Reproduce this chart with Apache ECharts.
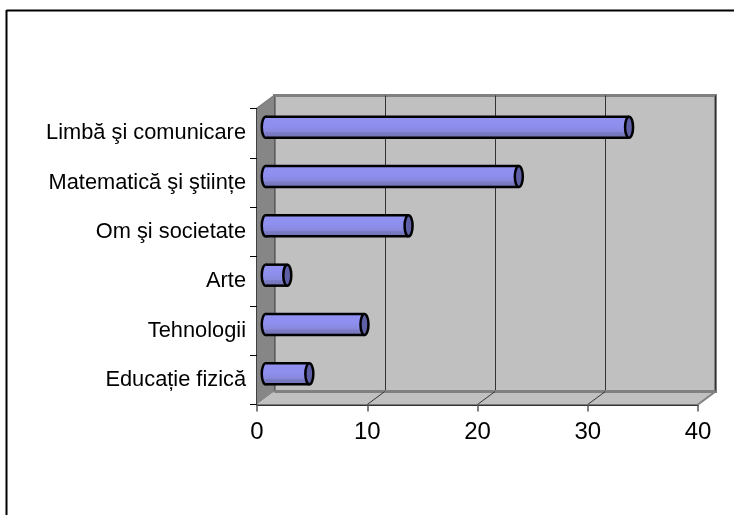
<!DOCTYPE html>
<html>
<head>
<meta charset="utf-8">
<style>
  html, body { margin: 0; padding: 0; background: #fff; }
  #chart { width: 734px; height: 515px; }
</style>
<script src="https://cdn.jsdelivr.net/npm/echarts@6/dist/echarts.min.js"></script>
</head>
<body>
<div id="chart"></div>
<script>
const categories = ['Limbă şi comunicare', 'Matematică şi ştiințe', 'Om şi societate', 'Arte', 'Tehnologii', 'Educație fizică']
const values = [33, 23, 13, 2, 9, 4]
const valueTicks = [0, 10, 20, 30, 40]

// depth of the fake 3d box, front plane to back plane
const depthX = 17.5
const depthY = -13

const chart = echarts.init(document.getElementById('chart'))

// side wall, floor and the little diagonals on the floor
function renderWalls(params, api) {
	const box = params.coordSys
	const left = box.x
	const bottom = box.y + box.height
	const right = box.x + box.width
	const wallLine = { stroke: '#808080', lineWidth: 2 }
	const children = [
		{
			type: 'polygon',
			shape: { points: [[left, box.y], [left + depthX, box.y + depthY], [left + depthX, bottom + depthY], [left, bottom]] },
			style: { fill: '#868686' }
		},
		{
			type: 'polygon',
			shape: { points: [[left, bottom], [left + depthX, bottom + depthY], [right + depthX, bottom + depthY], [right, bottom]] },
			style: { fill: '#c0c0c0' }
		},
		{
			type: 'line',
			shape: { x1: left + depthX, y1: bottom + depthY, x2: right + depthX, y2: bottom + depthY },
			style: { stroke: '#808080', lineWidth: 3 }
		},
		{
			type: 'line',
			shape: { x1: left, y1: box.y, x2: left + depthX, y2: box.y + depthY },
			style: wallLine
		},
		{
			type: 'line',
			shape: { x1: right, y1: bottom, x2: right + depthX, y2: bottom + depthY },
			style: wallLine
		}
	]
	valueTicks.slice(1, -1).forEach(t => {
		const x = api.coord([t, categories[0]])[0]
		children.push({
			type: 'line',
			shape: { x1: x, y1: bottom, x2: x + depthX, y2: bottom + depthY },
			style: { stroke: '#333', lineWidth: 1 }
		})
	})
	return { type: 'group', children: children }
}

// one cylinder lying half way into the box
function renderCylinder(params, api) {
	const end = api.coord([api.value(0), api.value(1)])
	const start = api.coord([0, api.value(1)])
	const height = 21
	const rx = 4
	const x0 = start[0] + depthX / 2
	const x1 = end[0] + depthX / 2 - 0.5
	const cy = end[1] + depthY / 2 + 0.5
	const top = cy - height / 2
	const body = new echarts.graphic.LinearGradient(0, 0, 0, 1, [
		{ offset: 0, color: '#9292f4' },
		{ offset: 0.45, color: '#8e8eee' },
		{ offset: 0.72, color: '#8888dc' },
		{ offset: 0.75, color: '#7c7cc8' },
		{ offset: 1, color: '#7272b4' }
	])
	const line = { stroke: '#000', lineWidth: 2.5 }
	return {
		type: 'group',
		children: [
			{
				type: 'ellipse',
				shape: { cx: x0, cy: cy, rx: rx, ry: height / 2 },
				style: { fill: body, stroke: '#000', lineWidth: 2.5 }
			},
			{
				type: 'rect',
				shape: { x: x0, y: top, width: x1 - x0, height: height },
				style: { fill: body }
			},
			{ type: 'line', shape: { x1: x0, y1: top, x2: x1, y2: top }, style: line },
			{ type: 'line', shape: { x1: x0, y1: top + height, x2: x1, y2: top + height }, style: line },
			{
				type: 'ellipse',
				shape: { cx: x1, cy: cy, rx: rx, ry: height / 2 },
				style: { fill: '#5f5fa6', stroke: '#000', lineWidth: 2.5 }
			}
		]
	}
}

const option = {
	animation: false,
	backgroundColor: '#fff',
	textStyle: { fontFamily: '"Liberation Sans", Arial, sans-serif' },
	graphic: [
		{ type: 'line', shape: { x1: 6.5, y1: 10.5, x2: 734, y2: 10.5 }, style: { stroke: '#000', lineWidth: 2 } },
		{ type: 'line', shape: { x1: 6.5, y1: 10, x2: 6.5, y2: 515 }, style: { stroke: '#000', lineWidth: 2 } }
	],
	grid: [
		{ left: 257, top: 108.5, width: 441, height: 296 },
		{
			left: 274.5,
			top: 95.5,
			width: 441,
			height: 296,
			show: true,
			backgroundColor: '#c0c0c0',
			borderColor: '#808080',
			borderWidth: 3
		}
	],
	xAxis: [
		{
			type: 'value',
			gridIndex: 0,
			min: 0,
			max: 40,
			interval: 10,
			axisLine: { show: true, lineStyle: { color: '#333', width: 2 } },
			axisTick: { show: true, length: 7, lineStyle: { color: '#555', width: 1.5 } },
			axisLabel: { fontSize: 24, color: '#000', margin: 16 },
			splitLine: { show: false }
		},
		{
			type: 'value',
			gridIndex: 1,
			min: 0,
			max: 40,
			interval: 10,
			axisLine: { show: false },
			axisTick: { show: false },
			axisLabel: { show: false },
			splitLine: { show: true, lineStyle: { color: '#333', width: 1 } }
		}
	],
	yAxis: [
		{
			type: 'category',
			gridIndex: 0,
			inverse: true,
			data: categories,
			axisLine: { show: true, lineStyle: { color: '#000', width: 1.5 } },
			axisTick: { show: true, length: 7, alignWithLabel: false, lineStyle: { color: '#000' } },
			axisLabel: { fontSize: 21.8, color: '#000', margin: 11, padding: [5, 0, 0, 0] },
			splitLine: { show: false }
		},
		{
			type: 'category',
			gridIndex: 1,
			inverse: true,
			data: categories,
			axisLine: { show: false },
			axisTick: { show: false },
			axisLabel: { show: false },
			splitLine: { show: false }
		}
	],
	series: [
		{
			type: 'custom',
			xAxisIndex: 0,
			yAxisIndex: 0,
			coordinateSystem: 'cartesian2d',
			renderItem: renderWalls,
			data: [[0, categories[0]]],
			silent: true,
			z: 1
		},
		{
			type: 'custom',
			xAxisIndex: 0,
			yAxisIndex: 0,
			coordinateSystem: 'cartesian2d',
			renderItem: renderCylinder,
			encode: { x: 0, y: 1 },
			data: values.map((v, i) => [v, i]),
			z: 3
		}
	]
}

chart.setOption(option)
</script>
</body>
</html>
